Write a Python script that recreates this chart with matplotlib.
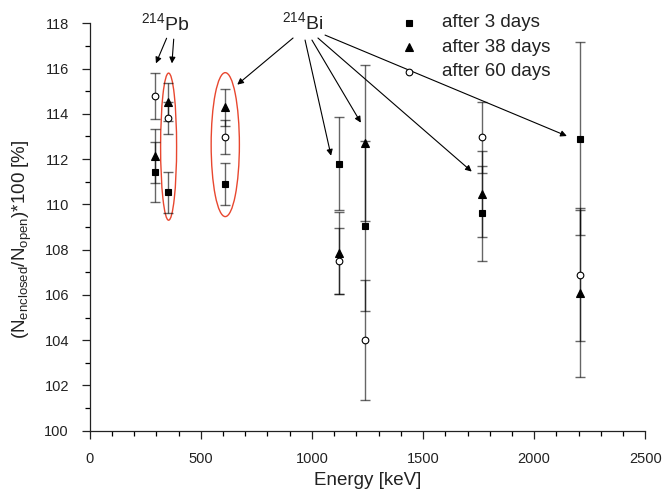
import matplotlib
matplotlib.use('Agg')
import matplotlib.pyplot as plt
from matplotlib.patches import Ellipse
from matplotlib.ticker import MultipleLocator

plt.rcParams['font.family'] = ['Liberation Sans', 'DejaVu Sans']
plt.rcParams['mathtext.fontset'] = 'custom'
plt.rcParams['mathtext.rm'] = 'Liberation Sans'
plt.rcParams['mathtext.it'] = 'Liberation Sans:italic'

# gamma lines of 214Pb and 214Bi
energies = [295, 352, 609, 1120, 1238, 1764, 2204]

# ratio enclosed/open in percent, with errors
day3 = [111.43, 110.53, 110.91, 111.80, 109.05, 109.61, 112.90]
day3_err = [1.34, 0.90, 0.93, 2.05, 3.77, 2.10, 4.27]
day38 = [112.14, 114.52, 114.29, 107.85, 112.70, 110.45, 106.07]
day38_err = [1.18, 0.83, 0.82, 1.80, 3.45, 1.89, 3.70]
day60 = [114.79, 113.82, 112.99, 107.51, 104.00, 112.97, 106.90]
day60_err = [1.03, 0.72, 0.75, 1.46, 2.65, 1.57, 2.95]

labels = ['after 3 days', 'after 38 days', 'after 60 days']

fig = plt.figure(figsize=(6.66, 4.97), dpi=100)
ax = fig.add_axes([0.1347, 0.1334, 0.8342, 0.8197])

series = [(day3, day3_err, 's', 'black', 4.8),
          (day38, day38_err, '^', 'black', 6.0),
          (day60, day60_err, 'o', 'white', 4.8)]

for vals, errs, mk, fc, ms in series:
    ax.errorbar(energies, vals, yerr=errs, fmt='none', ecolor='black',
                alpha=0.6, elinewidth=1.0, capsize=3.3, capthick=1.0)
for vals, errs, mk, fc, ms in series:
    ax.plot(energies, vals, linestyle='none', marker=mk, markersize=ms,
            markerfacecolor=fc, markeredgecolor='black', markeredgewidth=0.8,
            zorder=5)

# red ellipses around the 352 and 609 keV groups
ax.add_patch(Ellipse((355, 112.55), 72, 6.5, fill=False,
                     edgecolor='#E8472F', lw=1.0))
ax.add_patch(Ellipse((610, 112.64), 127, 6.36, fill=False,
                     edgecolor='#E8472F', lw=1.0))

# isotope labels with arrows
ax.text(339, 118.0, r'$^{214}$Pb', fontsize=14, ha='center', va='center',
        color='#222222', clip_on=False)
ax.text(960, 118.05, r'$^{214}$Bi', fontsize=14, ha='center', va='center',
        color='#222222', clip_on=False)

arrow = dict(arrowstyle='-|>', lw=0.8, color='black', mutation_scale=9,
             shrinkA=0, shrinkB=0)
pb_arrows = [((346, 117.34), (298, 116.23)),
             ((378, 117.30), (370, 116.23))]
bi_arrows = [((915, 117.35), (664, 115.29)),
             ((969, 117.26), (1086, 112.15)),
             ((1000, 117.26), (1220, 113.61)),
             ((1027, 117.35), (1719, 111.45)),
             ((1059, 117.48), (2147, 113.02))]
for start, end in pb_arrows + bi_arrows:
    ax.annotate('', xy=end, xytext=start, arrowprops=arrow,
                annotation_clip=False)

# legend
legend_y = [118.03, 116.94, 115.86]
for (vals, errs, mk, fc, ms), ly, lab in zip(series, legend_y, labels):
    ax.plot([1437], [ly], linestyle='none', marker=mk, markersize=ms,
            markerfacecolor=fc, markeredgecolor='black', markeredgewidth=0.8,
            clip_on=False, zorder=6)
    ax.text(1583, ly, lab, fontsize=13.5, va='center', ha='left',
            color='#222222', clip_on=False)

ax.set_xlim(0, 2500)
ax.set_ylim(100, 118)
ax.xaxis.set_major_locator(MultipleLocator(500))
ax.xaxis.set_minor_locator(MultipleLocator(100))
ax.yaxis.set_major_locator(MultipleLocator(2))
ax.yaxis.set_minor_locator(MultipleLocator(1))

for side in ['top', 'right']:
    ax.spines[side].set_visible(False)
for side in ['left', 'bottom']:
    ax.spines[side].set_linewidth(0.9)
    ax.spines[side].set_color('#222222')

ax.tick_params(axis='x', which='major', direction='out', length=6, width=0.9,
               pad=9, labelsize=10.5, colors='#222222')
ax.tick_params(axis='x', which='minor', direction='out', length=3.5, width=0.9)
ax.tick_params(axis='y', which='major', direction='out', length=6, width=0.9,
               pad=9, labelsize=10.5, colors='#222222')
ax.tick_params(axis='y', which='minor', direction='out', length=3.5, width=0.9)

ax.set_xlabel('Energy [keV]', fontsize=13.5, color='#222222')
ax.set_ylabel(r'(N$_{\mathrm{enclosed}}$/N$_{\mathrm{open}}$)*100 [%]',
              fontsize=13.5, color='#222222')
ax.xaxis.set_label_coords(0.5, -0.102)
ax.yaxis.set_label_coords(-0.1, 0.47)

fig.savefig('out.png', dpi=100)
